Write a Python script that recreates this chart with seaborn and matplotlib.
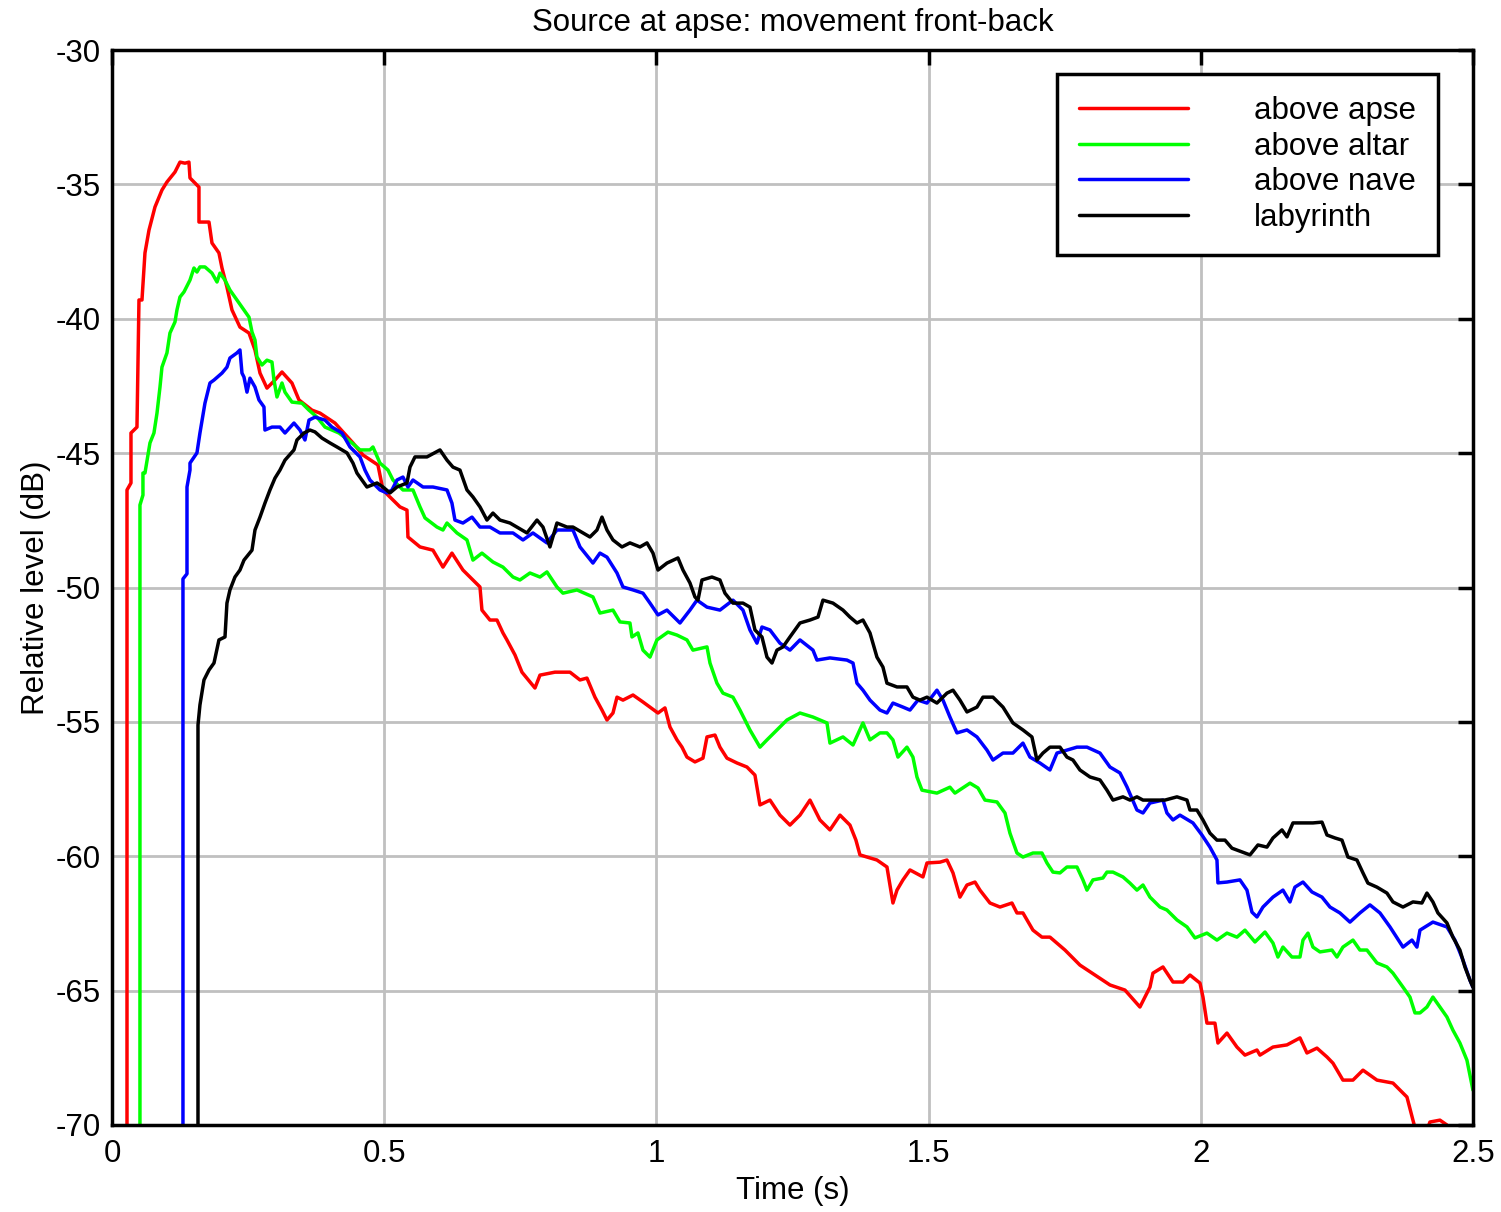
import numpy as np
import pandas as pd
import matplotlib
matplotlib.use("Agg")
import matplotlib.pyplot as plt
import seaborn as sns
from matplotlib.lines import Line2D

# ---------------- data ----------------
series_names = ["above apse", "above altar", "above nave", "labyrinth"]
series_colors = ["#ff0000", "#00ff00", "#0000ff", "#000000"]

apse_t = [0.0276, 0.0276, 0.0349, 0.0349, 0.0459, 0.0496, 0.0551, 0.0606, 0.0680, 0.0790, 0.0918, 0.1010,
          0.1157, 0.1249, 0.1341, 0.1414, 0.1433, 0.1598, 0.1598, 0.1782, 0.1837, 0.1965, 0.2021, 0.2112,
          0.2204, 0.2351, 0.2517, 0.2627, 0.2719, 0.2847, 0.2994, 0.3123, 0.3306, 0.3435, 0.3674, 0.3821,
          0.4096, 0.4427, 0.4611, 0.4886, 0.4978, 0.5070, 0.5290, 0.5419, 0.5437, 0.5658, 0.5896, 0.6080,
          0.6245, 0.6447, 0.6631, 0.6760, 0.6796, 0.6943, 0.7072, 0.7182, 0.7255, 0.7403, 0.7531, 0.7770,
          0.7862, 0.8137, 0.8413, 0.8597, 0.8725, 0.8872, 0.9001, 0.9093, 0.9203, 0.9277, 0.9387, 0.9571,
          0.9754, 0.9883, 1.0030, 1.0158, 1.0250, 1.0379, 1.0471, 1.0562, 1.0709, 1.0856, 1.0930, 1.1077,
          1.1168, 1.1297, 1.1481, 1.1664, 1.1811, 1.1903, 1.2087, 1.2270, 1.2454, 1.2638, 1.2822, 1.3005,
          1.3189, 1.3373, 1.3556, 1.3666, 1.3740, 1.4052, 1.4236, 1.4346, 1.4420, 1.4530, 1.4659, 1.4897,
          1.4971, 1.5210, 1.5338, 1.5449, 1.5577, 1.5706, 1.5853, 1.5944, 1.6128, 1.6312, 1.6532, 1.6624,
          1.6734, 1.6918, 1.7083, 1.7230, 1.7506, 1.7781, 1.8057, 1.8333, 1.8608, 1.8883, 1.9067, 1.9122,
          1.9306, 1.9490, 1.9673, 1.9802, 1.9986, 2.0041, 2.0114, 2.0261, 2.0316, 2.0482, 2.0665, 2.0812,
          2.1033, 2.1088, 2.1327, 2.1584, 2.1823, 2.1951, 2.2135, 2.2319, 2.2429, 2.2612, 2.2796, 2.2980,
          2.3237, 2.3531, 2.3788, 2.3898, 2.3971, 2.4118, 2.4210, 2.4394, 2.4522, 2.4578]
apse_db = [-70.5, -46.37, -46.11, -44.25, -44.03, -39.30, -39.30, -37.55, -36.70, -35.84, -35.21, -34.91,
           -34.54, -34.17, -34.21, -34.17, -34.76, -35.10, -36.40, -36.40, -37.18, -37.55, -38.11, -38.82,
           -39.67, -40.31, -40.53, -41.16, -42.02, -42.58, -42.28, -41.98, -42.39, -43.02, -43.40, -43.51,
           -43.88, -44.62, -45.07, -45.44, -46.37, -46.56, -47.00, -47.12, -48.12, -48.49, -48.61, -49.24,
           -48.72, -49.35, -49.72, -49.98, -50.84, -51.21, -51.21, -51.69, -51.95, -52.51, -53.15, -53.74,
           -53.26, -53.15, -53.15, -53.44, -53.37, -54.08, -54.56, -54.93, -54.67, -54.08, -54.19, -54.00,
           -54.26, -54.45, -54.67, -54.48, -55.19, -55.67, -55.94, -56.31, -56.49, -56.35, -55.56, -55.49,
           -55.94, -56.35, -56.53, -56.68, -56.98, -58.09, -57.91, -58.47, -58.84, -58.47, -57.91, -58.65,
           -59.02, -58.47, -58.84, -59.40, -59.95, -60.14, -60.40, -61.74, -61.26, -60.88, -60.51, -60.77,
           -60.25, -60.22, -60.14, -60.62, -61.52, -61.07, -60.96, -61.26, -61.74, -61.89, -61.74, -62.11,
           -62.11, -62.75, -63.01, -63.01, -63.49, -64.05, -64.42, -64.79, -64.98, -65.61, -64.87, -64.35,
           -64.12, -64.68, -64.68, -64.42, -64.72, -65.24, -66.21, -66.21, -66.95, -66.58, -67.10, -67.40,
           -67.21, -67.40, -67.10, -67.02, -66.76, -67.32, -67.14, -67.47, -67.70, -68.33, -68.33, -67.96,
           -68.33, -68.44, -68.96, -69.82, -70.37, -70.40, -69.89, -69.82, -70.00, -70.40]

altar_t = [0.0514, 0.0514, 0.0569, 0.0569, 0.0606, 0.0698, 0.0771, 0.0827, 0.0882, 0.0918, 0.1010, 0.1065,
           0.1157, 0.1194, 0.1249, 0.1323, 0.1433, 0.1506, 0.1561, 0.1616, 0.1708, 0.1837, 0.1929, 0.1984,
           0.2076, 0.2167, 0.2296, 0.2425, 0.2517, 0.2572, 0.2627, 0.2663, 0.2755, 0.2847, 0.2939, 0.2976,
           0.3031, 0.3123, 0.3178, 0.3306, 0.3490, 0.3619, 0.3766, 0.3913, 0.4170, 0.4409, 0.4556, 0.4739,
           0.4794, 0.4923, 0.5070, 0.5162, 0.5345, 0.5529, 0.5658, 0.5750, 0.5970, 0.6080, 0.6154, 0.6337,
           0.6521, 0.6631, 0.6796, 0.6998, 0.7182, 0.7366, 0.7494, 0.7678, 0.7862, 0.7990, 0.8174, 0.8284,
           0.8542, 0.8835, 0.8964, 0.9203, 0.9331, 0.9515, 0.9552, 0.9662, 0.9754, 0.9883, 1.0011, 1.0213,
           1.0379, 1.0562, 1.0672, 1.0930, 1.0985, 1.1113, 1.1223, 1.1407, 1.1536, 1.1719, 1.1903, 1.2032,
           1.2215, 1.2399, 1.2638, 1.2877, 1.3134, 1.3189, 1.3428, 1.3612, 1.3795, 1.3924, 1.4107, 1.4236,
           1.4346, 1.4438, 1.4603, 1.4713, 1.4787, 1.4879, 1.5154, 1.5393, 1.5485, 1.5761, 1.5908, 1.6036,
           1.6257, 1.6404, 1.6495, 1.6624, 1.6734, 1.6918, 1.7083, 1.7175, 1.7285, 1.7414, 1.7542, 1.7726,
           1.7836, 1.7910, 1.8020, 1.8203, 1.8277, 1.8387, 1.8571, 1.8700, 1.8828, 1.8939, 1.9067, 1.9251,
           1.9379, 1.9563, 1.9747, 1.9894, 2.0114, 2.0298, 2.0482, 2.0665, 2.0812, 2.0996, 2.1180, 2.1327,
           2.1418, 2.1510, 2.1675, 2.1823, 2.1878, 2.1970, 2.2061, 2.2190, 2.2410, 2.2502, 2.2612, 2.2796,
           2.2924, 2.3053, 2.3237, 2.3420, 2.3531, 2.3715, 2.3843, 2.3935, 2.4027, 2.4155, 2.4265, 2.4394,
           2.4522, 2.4632, 2.4761, 2.4890, 2.5000]
altar_db = [-70.5, -46.93, -46.56, -45.74, -45.74, -44.62, -44.25, -43.51, -42.54, -41.80, -41.27, -40.53,
            -40.12, -39.67, -39.19, -39.00, -38.56, -38.11, -38.26, -38.07, -38.07, -38.30, -38.63, -38.30,
            -38.56, -38.93, -39.30, -39.67, -39.94, -40.49, -40.79, -41.42, -41.72, -41.54, -41.61, -42.28,
            -42.91, -42.39, -42.73, -43.10, -43.14, -43.40, -43.66, -44.03, -44.25, -44.62, -44.88, -44.88,
            -44.77, -45.37, -45.63, -46.00, -46.37, -46.37, -47.00, -47.41, -47.75, -47.86, -47.60, -47.97,
            -48.23, -48.98, -48.72, -49.05, -49.24, -49.61, -49.72, -49.46, -49.61, -49.42, -49.98, -50.21,
            -50.09, -50.35, -50.95, -50.84, -51.28, -51.32, -51.84, -51.69, -52.33, -52.59, -51.95, -51.66,
            -51.77, -51.95, -52.33, -52.21, -52.81, -53.56, -53.93, -54.08, -54.56, -55.30, -55.94, -55.67,
            -55.30, -54.93, -54.67, -54.82, -55.04, -55.79, -55.56, -55.86, -55.04, -55.67, -55.41, -55.41,
            -55.67, -56.31, -55.94, -56.31, -57.05, -57.54, -57.65, -57.43, -57.65, -57.28, -57.46, -57.91,
            -57.98, -58.39, -59.14, -59.88, -60.03, -59.88, -59.88, -60.25, -60.59, -60.62, -60.40, -60.40,
            -60.88, -61.26, -60.88, -60.81, -60.59, -60.59, -60.77, -61.00, -61.26, -61.07, -61.52, -61.89,
            -62.00, -62.37, -62.63, -63.04, -62.86, -63.12, -62.86, -63.01, -62.75, -63.19, -62.82, -63.23,
            -63.75, -63.38, -63.75, -63.75, -63.12, -62.86, -63.38, -63.56, -63.49, -63.75, -63.38, -63.12,
            -63.49, -63.49, -63.97, -64.12, -64.35, -64.87, -65.24, -65.83, -65.83, -65.61, -65.24, -65.61,
            -65.98, -66.47, -66.95, -67.59, -68.70]

nave_t = [0.1304, 0.1304, 0.1378, 0.1378, 0.1433, 0.1433, 0.1561, 0.1616, 0.1708, 0.1800, 0.1874, 0.2021,
          0.2112, 0.2167, 0.2296, 0.2351, 0.2388, 0.2425, 0.2480, 0.2535, 0.2627, 0.2700, 0.2792, 0.2810,
          0.2939, 0.3086, 0.3178, 0.3343, 0.3453, 0.3545, 0.3619, 0.3729, 0.3913, 0.4041, 0.4225, 0.4372,
          0.4556, 0.4647, 0.4739, 0.4923, 0.5051, 0.5143, 0.5235, 0.5345, 0.5437, 0.5529, 0.5713, 0.5896,
          0.6154, 0.6245, 0.6300, 0.6447, 0.6613, 0.6760, 0.6943, 0.7127, 0.7366, 0.7550, 0.7733, 0.7990,
          0.8174, 0.8468, 0.8597, 0.8835, 0.8964, 0.9093, 0.9277, 0.9387, 0.9571, 0.9754, 0.9883, 1.0030,
          1.0195, 1.0434, 1.0617, 1.0746, 1.0930, 1.1168, 1.1407, 1.1591, 1.1719, 1.1848, 1.1940, 1.2087,
          1.2270, 1.2454, 1.2638, 1.2877, 1.2950, 1.3189, 1.3501, 1.3612, 1.3685, 1.3795, 1.3924, 1.4107,
          1.4236, 1.4346, 1.4530, 1.4659, 1.4805, 1.4971, 1.5154, 1.5265, 1.5393, 1.5522, 1.5706, 1.5889,
          1.6073, 1.6183, 1.6367, 1.6550, 1.6734, 1.6863, 1.7046, 1.7230, 1.7359, 1.7542, 1.7726, 1.7910,
          1.8149, 1.8332, 1.8516, 1.8645, 1.8828, 1.8939, 1.9067, 1.9306, 1.9379, 1.9490, 1.9618, 1.9857,
          2.0022, 2.0169, 2.0298, 2.0316, 2.0482, 2.0720, 2.0849, 2.0941, 2.1033, 2.1143, 2.1327, 2.1510,
          2.1639, 2.1730, 2.1878, 2.2043, 2.2227, 2.2374, 2.2557, 2.2741, 2.2924, 2.3108, 2.3292, 2.3476,
          2.3715, 2.3880, 2.3971, 2.4027, 2.4265, 2.4522, 2.4669, 2.4816, 2.4945, 2.5000]
nave_db = [-70.5, -49.68, -49.49, -46.26, -45.63, -45.37, -44.99, -44.25, -43.14, -42.39, -42.28, -42.02,
           -41.80, -41.46, -41.27, -41.16, -42.02, -42.17, -42.73, -42.21, -42.54, -43.02, -43.28, -44.14,
           -44.03, -44.03, -44.25, -43.88, -44.14, -44.51, -43.77, -43.66, -43.77, -44.03, -44.25, -44.77,
           -45.14, -45.63, -46.00, -46.37, -46.48, -46.37, -46.00, -45.89, -46.26, -46.00, -46.26, -46.26,
           -46.37, -46.86, -47.49, -47.60, -47.38, -47.75, -47.75, -47.97, -47.97, -48.23, -47.97, -48.34,
           -47.86, -47.86, -48.49, -49.09, -48.72, -48.87, -49.46, -49.98, -50.09, -50.21, -50.58, -51.02,
           -50.84, -51.32, -50.84, -50.47, -50.73, -50.84, -50.47, -50.84, -51.58, -52.07, -51.47, -51.58,
           -52.07, -52.33, -51.95, -52.33, -52.70, -52.62, -52.70, -52.81, -53.56, -53.82, -54.19, -54.56,
           -54.67, -54.30, -54.45, -54.56, -54.19, -54.30, -53.82, -54.19, -54.82, -55.41, -55.30, -55.56,
           -56.05, -56.42, -56.16, -56.16, -55.79, -56.31, -56.53, -56.79, -56.16, -56.05, -55.94, -55.94,
           -56.16, -56.68, -56.90, -57.42, -58.28, -58.39, -58.02, -57.91, -58.39, -58.65, -58.47, -58.76,
           -59.21, -59.66, -60.14, -60.99, -60.96, -60.88, -61.26, -62.08, -62.26, -61.89, -61.52, -61.26,
           -61.70, -61.15, -60.96, -61.33, -61.52, -61.89, -62.11, -62.45, -62.11, -61.81, -62.11, -62.63,
           -63.38, -63.12, -63.38, -62.75, -62.45, -62.63, -63.12, -63.86, -64.61, -64.87]

laby_t = [0.1580, 0.1580, 0.1616, 0.1690, 0.1782, 0.1874, 0.1965, 0.2076, 0.2112, 0.2167, 0.2259, 0.2351,
          0.2425, 0.2572, 0.2627, 0.2719, 0.2810, 0.2902, 0.2994, 0.3086, 0.3178, 0.3343, 0.3398, 0.3527,
          0.3637, 0.3729, 0.3858, 0.4004, 0.4133, 0.4317, 0.4427, 0.4500, 0.4592, 0.4684, 0.4868, 0.4978,
          0.5107, 0.5235, 0.5419, 0.5474, 0.5566, 0.5786, 0.6025, 0.6154, 0.6264, 0.6392, 0.6521, 0.6631,
          0.6760, 0.6888, 0.6998, 0.7127, 0.7311, 0.7439, 0.7623, 0.7807, 0.7917, 0.8045, 0.8174, 0.8358,
          0.8468, 0.8652, 0.8780, 0.8909, 0.9001, 0.9093, 0.9203, 0.9368, 0.9515, 0.9699, 0.9828, 0.9938,
          1.0030, 1.0195, 1.0397, 1.0489, 1.0617, 1.0709, 1.0764, 1.0838, 1.1021, 1.1168, 1.1260, 1.1407,
          1.1591, 1.1719, 1.1811, 1.1940, 1.2032, 1.2124, 1.2215, 1.2326, 1.2454, 1.2638, 1.2822, 1.2969,
          1.3060, 1.3244, 1.3428, 1.3556, 1.3685, 1.3795, 1.3924, 1.4052, 1.4162, 1.4236, 1.4420, 1.4603,
          1.4713, 1.4842, 1.4971, 1.5154, 1.5338, 1.5449, 1.5577, 1.5706, 1.5889, 1.5999, 1.6183, 1.6367,
          1.6550, 1.6734, 1.6899, 1.6991, 1.7101, 1.7230, 1.7414, 1.7542, 1.7653, 1.7781, 1.7965, 1.8149,
          1.8277, 1.8387, 1.8571, 1.8700, 1.8828, 1.8939, 1.9122, 1.9343, 1.9563, 1.9747, 1.9802, 1.9930,
          2.0041, 2.0169, 2.0298, 2.0445, 2.0573, 2.0757, 2.0904, 2.1051, 2.1216, 2.1327, 2.1492, 2.1584,
          2.1694, 2.1878, 2.2061, 2.2227, 2.2319, 2.2466, 2.2594, 2.2704, 2.2869, 2.2980, 2.3071, 2.3237,
          2.3420, 2.3531, 2.3715, 2.3898, 2.4063, 2.4155, 2.4265, 2.4357, 2.4522, 2.4632, 2.4761, 2.4853,
          2.4945, 2.5000]
laby_db = [-70.5, -55.12, -54.37, -53.44, -53.07, -52.81, -51.95, -51.84, -50.58, -50.09, -49.61, -49.35,
           -48.98, -48.61, -47.86, -47.38, -46.86, -46.37, -45.93, -45.63, -45.26, -44.88, -44.51, -44.25,
           -44.14, -44.21, -44.44, -44.62, -44.77, -44.99, -45.37, -45.74, -46.00, -46.26, -46.11, -46.26,
           -46.48, -46.26, -46.11, -45.52, -45.14, -45.14, -44.88, -45.26, -45.52, -45.63, -46.37, -46.63,
           -47.00, -47.49, -47.23, -47.49, -47.60, -47.75, -47.97, -47.49, -47.75, -48.49, -47.60, -47.75,
           -47.75, -47.97, -48.12, -47.86, -47.38, -47.86, -48.23, -48.49, -48.34, -48.49, -48.34, -48.72,
           -49.35, -49.09, -48.90, -49.35, -49.83, -50.35, -50.47, -49.72, -49.61, -49.72, -50.21, -50.58,
           -50.58, -50.73, -51.58, -51.84, -52.59, -52.81, -52.33, -52.21, -51.84, -51.32, -51.21, -51.10,
           -50.47, -50.58, -50.84, -51.10, -51.32, -51.21, -51.69, -52.59, -52.96, -53.56, -53.70, -53.70,
           -54.08, -54.19, -54.08, -54.30, -53.93, -53.82, -54.19, -54.63, -54.45, -54.08, -54.08, -54.45,
           -55.04, -55.30, -55.56, -56.42, -56.16, -55.94, -55.94, -56.31, -56.42, -56.79, -57.05, -57.16,
           -57.54, -57.91, -57.79, -57.91, -57.79, -57.91, -57.91, -57.91, -57.79, -57.91, -58.28, -58.28,
           -58.65, -59.14, -59.40, -59.40, -59.70, -59.84, -59.95, -59.58, -59.66, -59.32, -59.02, -59.28,
           -58.76, -58.76, -58.76, -58.73, -59.21, -59.32, -59.40, -60.03, -60.14, -60.62, -61.00, -61.15,
           -61.37, -61.70, -61.89, -61.70, -61.74, -61.37, -61.70, -62.11, -62.48, -63.01, -63.49, -64.12,
           -64.61, -64.87]

x_ticks = [0, 0.5, 1, 1.5, 2, 2.5]
x_tick_labels = ["0", "0.5", "1", "1.5", "2", "2.5"]
y_ticks = [-70, -65, -60, -55, -50, -45, -40, -35, -30]
y_tick_labels = ["-70", "-65", "-60", "-55", "-50", "-45", "-40", "-35", "-30"]

# ---------------- plotting ----------------
sns.set_theme(style="white")
plt.rcParams["font.family"] = ["Liberation Sans", "DejaVu Sans"]
plt.rcParams["axes.unicode_minus"] = False

FS = 22.5
LW = 2.5

frames = []
for name, t, db in zip(series_names,
                       [apse_t, altar_t, nave_t, laby_t],
                       [apse_db, altar_db, nave_db, laby_db]):
    frames.append(pd.DataFrame({"t": t, "dB": db, "series": name}))
df = pd.concat(frames, ignore_index=True)

fig = plt.figure(figsize=(15.01, 12.12), dpi=100)
ax = fig.add_axes([0.0746, 0.0718, 0.9067, 0.8869])

sns.lineplot(data=df, x="t", y="dB", hue="series", hue_order=series_names,
             palette=dict(zip(series_names, series_colors)), estimator=None, sort=False,
             units="series", linewidth=LW, ax=ax, legend=False)

ax.set_xlim(0, 2.5)
ax.set_ylim(-70, -30)
ax.set_xticks(x_ticks)
ax.set_xticklabels(x_tick_labels)
ax.set_yticks(y_ticks)
ax.set_yticklabels(y_tick_labels)
ax.grid(True, color="#c0c0c0", linewidth=2.0)
ax.set_axisbelow(True)
for sp in ax.spines.values():
    sp.set_color("black")
    sp.set_linewidth(2.5)
ax.tick_params(axis="both", direction="in", length=11, width=2.5, labelsize=FS,
               top=True, right=True, colors="black")
ax.tick_params(axis="x", pad=10)
ax.tick_params(axis="y", pad=8)
ax.set_xlabel("Time (s)", fontsize=FS, labelpad=5, color="black")
ax.set_ylabel("Relative level (dB)", fontsize=FS, labelpad=3, color="black")
ax.set_title("Source at apse: movement front-back", fontsize=FS, pad=14, color="black")

handles = [Line2D([0], [0], color=c, linewidth=LW) for c in series_colors]
leg = ax.legend(handles, series_names, loc="upper right", bbox_to_anchor=(0.9743, 0.9777),
                fontsize=FS, handlelength=3.5, handletextpad=2.1, labelspacing=0.18,
                borderpad=0.7, borderaxespad=0, fancybox=False, frameon=True)
leg.get_frame().set_edgecolor("black")
leg.get_frame().set_linewidth(2.5)
leg.get_frame().set_alpha(1)
for txt in leg.get_texts():
    txt.set_color("black")

fig.savefig("out.png", dpi=100, facecolor="white")
